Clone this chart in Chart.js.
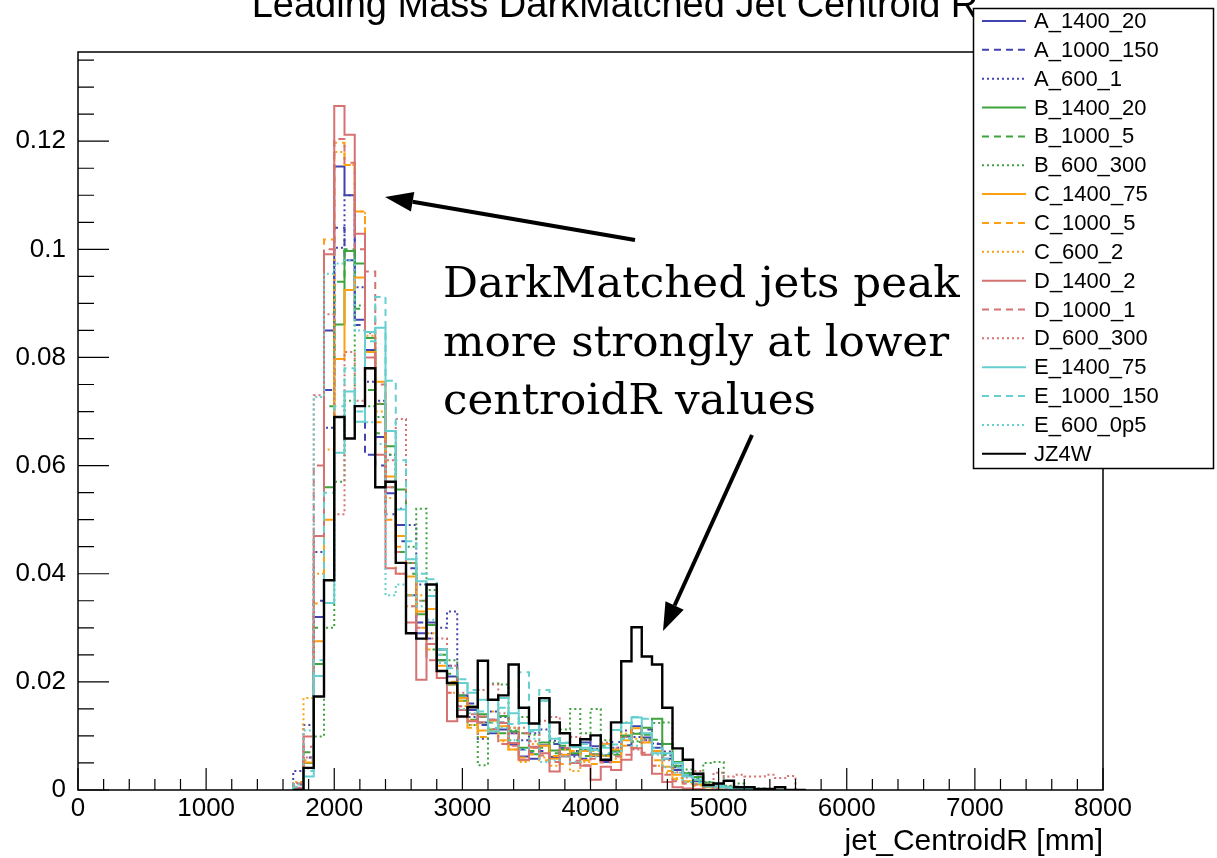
<!DOCTYPE html>
<html>
<head>
<meta charset="utf-8">
<script src="https://cdn.jsdelivr.net/npm/chart.js@4.4.1/dist/chart.umd.min.js"></script>
<style>
  html, body { margin: 0; padding: 0; background: #fff; }
  #wrap { width: 1217px; height: 858px; }
</style>
</head>
<body>
<div id="wrap"><canvas id="histo" width="1217" height="858"></canvas></div>
<script>
// bins of 80 mm, first stored bin starts at 1680 mm
var binStart = 1680;
var binWidth = 80;

var seriesNames = ['A_1400_20', 'A_1000_150', 'A_600_1', 'B_1400_20', 'B_1000_5', 'B_600_300',
    'C_1400_75', 'C_1000_5', 'C_600_2', 'D_1400_2', 'D_1000_1', 'D_600_300',
    'E_1400_75', 'E_1000_150', 'E_600_0p5', 'JZ4W'];

var A_1400_20 = [0.0003, 0.005, 0.032, 0.085, 0.1153, 0.110, 0.087, 0.0814, 0.0653, 0.0549,
    0.049, 0.036, 0.029, 0.031, 0.024, 0.021, 0.0175, 0.0148, 0.0125, 0.0105,
    0.0112, 0.0084, 0.0062, 0.0058, 0.0083, 0.0061, 0.0077, 0.0065, 0.0088, 0.0063,
    0.0052, 0.0071, 0.0099, 0.0118, 0.0097, 0.0078, 0.0058, 0.0037, 0.0027, 0.0016,
    0.0009, 0.0007, 0.0004, 0.0004, 0.0002, 0, 0, 0, 0, 0];
var A_1000_150 = [0.001, 0.006, 0.035, 0.074, 0.104, 0.098, 0.086, 0.062, 0.06, 0.051,
    0.046, 0.041, 0.031, 0.028, 0.026, 0.023, 0.017, 0.016, 0.012, 0.013,
    0.0125, 0.0105, 0.0075, 0.0068, 0.0072, 0.0085, 0.0066, 0.0072, 0.0058, 0.0081,
    0.0065, 0.0089, 0.0083, 0.0105, 0.0112, 0.0085, 0.0064, 0.0042, 0.0031, 0.0025,
    0.0012, 0.0008, 0.0004, 0.0006, 0.0003, 0.0002, 0, 0, 0, 0];
var A_600_1 = [0.0035, 0.012, 0.044, 0.067, 0.1003, 0.110, 0.093, 0.0755, 0.072, 0.062,
    0.052, 0.049, 0.038, 0.029, 0.030, 0.033, 0.017, 0.0135, 0.0095, 0.0145,
    0.0135, 0.0115, 0.0092, 0.0105, 0.0112, 0.0091, 0.0077, 0.0062, 0.0094, 0.0076,
    0.0064, 0.0078, 0.011, 0.0098, 0.0092, 0.0086, 0.0071, 0.0045, 0.0032, 0.0022,
    0.0015, 0.001, 0.0007, 0.0004, 0.0003, 0.0002, 0, 0, 0, 0];
var B_1400_20 = [0, 0.005, 0.0233, 0.056, 0.0861, 0.0997, 0.0974, 0.0836, 0.0714, 0.0636,
    0.0556, 0.042, 0.0325, 0.0305, 0.024, 0.0195, 0.0165, 0.0155, 0.014, 0.0112,
    0.0137, 0.0108, 0.0078, 0.0066, 0.0088, 0.0073, 0.0075, 0.0068, 0.0074, 0.0066,
    0.0064, 0.0072, 0.0101, 0.0104, 0.0115, 0.0132, 0.0085, 0.0052, 0.0031, 0.0024,
    0.0014, 0.0006, 0.0004, 0.0003, 0.0002, 0, 0, 0, 0, 0];
var B_1000_5 = [0.0005, 0.007, 0.03, 0.071, 0.094, 0.1, 0.089, 0.074, 0.066, 0.056,
    0.044, 0.04, 0.035, 0.026, 0.025, 0.0215, 0.0175, 0.013, 0.0135, 0.0125,
    0.0105, 0.0092, 0.0105, 0.0072, 0.0078, 0.0068, 0.0082, 0.0071, 0.0063, 0.0075,
    0.0082, 0.0065, 0.0098, 0.0089, 0.0102, 0.0093, 0.0065, 0.0045, 0.003, 0.0018,
    0.0012, 0.0008, 0.0006, 0.0003, 0.0002, 0, 0, 0, 0, 0];
var B_600_300 = [0.0012, 0.004, 0.0099, 0.030, 0.057, 0.072, 0.0896, 0.071, 0.069, 0.062,
    0.047, 0.045, 0.052, 0.037, 0.026, 0.024, 0.017, 0.012, 0.0046, 0.0197,
    0.0195, 0.011, 0.0135, 0.0102, 0.0165, 0.0088, 0.0112, 0.015, 0.0105, 0.015,
    0.0092, 0.0068, 0.0125, 0.009, 0.0095, 0.0124, 0.0125, 0.0042, 0.0038, 0.002,
    0.005, 0.0052, 0.0008, 0.0012, 0.0003, 0.0003, 0, 0, 0, 0];
var C_1400_75 = [0, 0.0051, 0.0275, 0.05, 0.0797, 0.0925, 0.0948, 0.081, 0.0755, 0.058,
    0.047, 0.0395, 0.033, 0.0335, 0.023, 0.0195, 0.017, 0.0128, 0.011, 0.0128,
    0.0118, 0.0075, 0.0055, 0.0078, 0.0082, 0.0058, 0.0065, 0.005, 0.0072, 0.0064,
    0.0085, 0.0052, 0.0092, 0.0114, 0.0088, 0.0072, 0.0043, 0.0028, 0.0016, 0.001,
    0.0005, 0.0003, 0.0002, 0, 0, 0, 0, 0, 0, 0];
var C_1000_5 = [0.0006, 0.0055, 0.0345, 0.1018, 0.1197, 0.1156, 0.107, 0.078, 0.068, 0.050,
    0.045, 0.036, 0.03, 0.026, 0.022, 0.02, 0.0165, 0.0115, 0.0098, 0.011,
    0.0092, 0.0075, 0.006, 0.0066, 0.0055, 0.0063, 0.0048, 0.0072, 0.0055, 0.0048,
    0.0063, 0.0075, 0.0082, 0.0078, 0.0089, 0.0055, 0.0035, 0.002, 0.0012, 0.0008,
    0.0004, 0.0002, 0, 0, 0, 0, 0, 0, 0, 0];
var C_600_2 = [0.0015, 0.017, 0.04, 0.063, 0.118, 0.1156, 0.107, 0.084, 0.07, 0.054,
    0.04, 0.034, 0.036, 0.029, 0.025, 0.018, 0.0155, 0.012, 0.0125, 0.0145,
    0.009, 0.0115, 0.0052, 0.0085, 0.006, 0.0045, 0.0075, 0.0035, 0.0052, 0.0072,
    0.0063, 0.0058, 0.0104, 0.0095, 0.0065, 0.0045, 0.0032, 0.0022, 0.0015, 0.0012,
    0.0006, 0.0004, 0.0002, 0, 0, 0, 0, 0, 0, 0];
var D_1400_2 = [0.0004, 0.0099, 0.047, 0.0991, 0.1265, 0.1212, 0.1029, 0.080, 0.062, 0.041,
    0.040, 0.031, 0.0204, 0.027, 0.0207, 0.0127, 0.0148, 0.0127, 0.0136, 0.013,
    0.0124, 0.0087, 0.0056, 0.008, 0.0068, 0.0034, 0.0062, 0.005, 0.0045, 0.0019,
    0.0043, 0.0037, 0.0056, 0.0077, 0.0065, 0.003, 0.0015, 0.0005, 0.0003, 0.0002,
    0, 0, 0, 0, 0, 0, 0, 0, 0, 0];
var D_1000_1 = [0.0012, 0.008, 0.06, 0.1, 0.1204, 0.116, 0.1, 0.0959, 0.075, 0.056,
    0.044, 0.034, 0.03, 0.024, 0.022, 0.018, 0.0155, 0.014, 0.0125, 0.0113,
    0.0085, 0.0082, 0.0105, 0.0078, 0.0064, 0.0052, 0.0078, 0.0054, 0.0046, 0.0058,
    0.0051, 0.0062, 0.0065, 0.0077, 0.0069, 0.0045, 0.0028, 0.0016, 0.0012, 0.001,
    0.0005, 0.0003, 0.0003, 0.0002, 0, 0, 0, 0, 0, 0];
var D_600_300 = [0.0013, 0.006, 0.073, 0.088, 0.051, 0.081, 0.072, 0.0845, 0.0715, 0.061,
    0.0686, 0.042, 0.035, 0.028, 0.028, 0.023, 0.018, 0.0155, 0.0185, 0.0195,
    0.0142, 0.0105, 0.0115, 0.009, 0.0128, 0.0135, 0.0105, 0.0098, 0.0074, 0.0066,
    0.0088, 0.0078, 0.0098, 0.0075, 0.0092, 0.0068, 0.0055, 0.0033, 0.0023, 0.0035,
    0.0012, 0.0032, 0.0025, 0.0028, 0.0025, 0.0025, 0.0028, 0.0022, 0.0026, 0];
var E_1400_75 = [0, 0.0025, 0.0211, 0.0346, 0.0624, 0.0737, 0.0681, 0.0847, 0.0855, 0.0664,
    0.0519, 0.0427, 0.0386, 0.0359, 0.026, 0.0198, 0.0198, 0.018, 0.0167, 0.0108,
    0.017, 0.0142, 0.0124, 0.0111, 0.0165, 0.0095, 0.0087, 0.008, 0.0078, 0.0074,
    0.0078, 0.0111, 0.0124, 0.0134, 0.0105, 0.0068, 0.0068, 0.005, 0.0025, 0.0019,
    0.0008, 0.0008, 0.0005, 0.0003, 0.0002, 0, 0, 0, 0, 0];
var E_1000_150 = [0.0005, 0.0035, 0.024, 0.055, 0.071, 0.078, 0.07, 0.083, 0.0912, 0.0757,
    0.061, 0.046, 0.04, 0.039, 0.025, 0.0225, 0.0205, 0.0185, 0.0145, 0.0115,
    0.0152, 0.0122, 0.0218, 0.0108, 0.0185, 0.0095, 0.0088, 0.0079, 0.0085, 0.0072,
    0.0068, 0.0084, 0.0095, 0.0135, 0.0132, 0.0077, 0.0058, 0.0041, 0.0028, 0.0014,
    0.0007, 0.0005, 0.0003, 0, 0, 0, 0, 0, 0, 0];
var E_600_0p5 = [0.001, 0.011, 0.0727, 0.0955, 0.0974, 0.098, 0.085, 0.068, 0.064, 0.036,
    0.038, 0.036, 0.034, 0.0315, 0.0235, 0.0195, 0.015, 0.0142, 0.0145, 0.0125,
    0.0115, 0.0092, 0.0075, 0.0095, 0.0052, 0.0055, 0.0062, 0.0052, 0.0075, 0.0062,
    0.0083, 0.007, 0.0095, 0.0082, 0.0105, 0.0065, 0.0042, 0.0032, 0.0015, 0.0012,
    0.0006, 0.0004, 0, 0, 0, 0, 0, 0, 0, 0];
var JZ4W = [0, 0.0041, 0.0173, 0.0388, 0.069, 0.065, 0.071, 0.078, 0.056, 0.057,
    0.042, 0.029, 0.028, 0.038, 0.022, 0.0198, 0.0136, 0.0153, 0.0239, 0.0167,
    0.0175, 0.0232, 0.0152, 0.0123, 0.017, 0.0125, 0.0105, 0.0083, 0.0094, 0.0101,
    0.0056, 0.0125, 0.0238, 0.0301, 0.0247, 0.0232, 0.0152, 0.0077, 0.0056, 0.003,
    0.0009, 0.0012, 0.0017, 0.0005, 0.0005, 0.0002, 0.0002, 0.0005, 0, 0];

var seriesValues = [A_1400_20, A_1000_150, A_600_1, B_1400_20, B_1000_5, B_600_300,
    C_1400_75, C_1000_5, C_600_2, D_1400_2, D_1000_1, D_600_300,
    E_1400_75, E_1000_150, E_600_0p5, JZ4W];

var xTicks = [0, 1000, 2000, 3000, 4000, 5000, 6000, 7000, 8000];
var xTickLabels = ['0', '1000', '2000', '3000', '4000', '5000', '6000', '7000', '8000'];
var yTicks = [0, 0.02, 0.04, 0.06, 0.08, 0.1, 0.12];
var yTickLabels = ['0', '0.02', '0.04', '0.06', '0.08', '0.1', '0.12'];
var yMax = 0.1365;

var titleText = 'Leading Mass DarkMatched Jet Centroid R';
var xTitle = 'jet_CentroidR [mm]';
var noteLines = ['DarkMatched jets peak', 'more strongly at lower', 'centroidR values'];

var groupColors = { A: '#4343b0', B: '#3fa33f', C: '#ffa010', D: '#d67272', E: '#66d0d0', J: '#000000' };
var dashStyles = [[], [7, 5], [2, 3]];

// histogram outline: one point per bin low edge, closed at the last upper edge
function histPoints(vals) {
    var pts = [{ x: binStart, y: 0 }];
    for (var i = 0; i < vals.length; i++) {
        pts.push({ x: binStart + i * binWidth, y: vals[i] });
    }
    pts.push({ x: binStart + vals.length * binWidth, y: vals[vals.length - 1] });
    pts.push({ x: binStart + vals.length * binWidth, y: 0 });
    return pts;
}

function arrow(ctx, x1, y1, x2, y2) {
    var a = Math.atan2(y2 - y1, x2 - x1);
    var hl = 28, hw = 10;
    var bx = x2 - hl * Math.cos(a), by = y2 - hl * Math.sin(a);
    ctx.beginPath();
    ctx.moveTo(x1, y1);
    ctx.lineTo(bx, by);
    ctx.stroke();
    ctx.beginPath();
    ctx.moveTo(x2, y2);
    ctx.lineTo(bx + hw * Math.sin(a), by - hw * Math.cos(a));
    ctx.lineTo(bx - hw * Math.sin(a), by + hw * Math.cos(a));
    ctx.closePath();
    ctx.fill();
}

var rootStyle = {
    id: 'rootStyle',
    afterDraw: function(chart) {
        var ctx = chart.ctx;
        var ca = chart.chartArea;
        var sx = chart.scales.x, sy = chart.scales.y;
        ctx.save();
        ctx.strokeStyle = '#000';
        ctx.fillStyle = '#000';
        ctx.setLineDash([]);

        // frame
        ctx.lineWidth = 1.5;
        ctx.strokeRect(ca.left, ca.top, ca.right - ca.left, ca.bottom - ca.top);

        // x ticks: major every 1000, minor every 200
        ctx.lineWidth = 1.2;
        ctx.beginPath();
        for (var v = 0; v <= 8000; v += 200) {
            var px = sx.getPixelForValue(v);
            var len = (v % 1000 === 0) ? 22 : 11;
            ctx.moveTo(px, ca.bottom);
            ctx.lineTo(px, ca.bottom - len);
        }
        // y ticks: major every 0.02, minor every 0.005
        for (var k = 0; k * 0.005 <= yMax; k++) {
            var py = sy.getPixelForValue(k * 0.005);
            var l = (k % 4 === 0) ? 31 : 16;
            ctx.moveTo(ca.left, py);
            ctx.lineTo(ca.left + l, py);
        }
        ctx.stroke();

        // tick labels
        ctx.font = '26px "Liberation Sans", Arial, sans-serif';
        ctx.textAlign = 'center';
        ctx.textBaseline = 'top';
        xTicks.forEach(function(t, i) {
            ctx.fillText(xTickLabels[i], sx.getPixelForValue(t), ca.bottom + 6);
        });
        ctx.textAlign = 'right';
        ctx.textBaseline = 'middle';
        yTicks.forEach(function(t, i) {
            ctx.fillText(yTickLabels[i], ca.left - 12, sy.getPixelForValue(t));
        });

        // axis title
        ctx.font = '30px "Liberation Sans", Arial, sans-serif';
        ctx.textAlign = 'right';
        ctx.fillText(xTitle, ca.right, 842);

        // main title, clipped by the top of the page
        ctx.font = '38px "Liberation Sans", Arial, sans-serif';
        ctx.textAlign = 'center';
        ctx.textBaseline = 'alphabetic';
        ctx.fillText(titleText, 615, 17);

        // annotation
        ctx.textAlign = 'left';
        var fs = 40;
        ctx.font = fs + 'px "DejaVu Serif", serif';
        fs = fs * 517 / ctx.measureText(noteLines[0]).width;
        ctx.font = fs.toFixed(1) + 'px "DejaVu Serif", serif';
        ctx.fillText(noteLines[0], 443, 297);
        ctx.fillText(noteLines[1], 443, 356);
        ctx.fillText(noteLines[2], 443, 414);

        ctx.lineWidth = 4;
        arrow(ctx, 635, 240, 385, 197);
        arrow(ctx, 752, 435, 663, 631);

        // legend
        ctx.fillStyle = '#fff';
        ctx.fillRect(973, 8, 240, 460);
        ctx.lineWidth = 1.5;
        ctx.strokeStyle = '#000';
        ctx.strokeRect(973.5, 8.5, 240, 460);
        ctx.font = '22px "Liberation Sans", Arial, sans-serif';
        ctx.textBaseline = 'middle';
        chart.data.datasets.forEach(function(ds, i) {
            var ly = 21 + i * 28.85;
            ctx.strokeStyle = ds.borderColor;
            ctx.lineWidth = 2;
            ctx.setLineDash(ds.borderDash);
            ctx.beginPath();
            ctx.moveTo(982, ly);
            ctx.lineTo(1026, ly);
            ctx.stroke();
            ctx.setLineDash([]);
            ctx.fillStyle = '#000';
            ctx.fillText(ds.label, 1034, ly + 1);
        });
        ctx.restore();
    }
};

document.addEventListener('DOMContentLoaded', function() {
    var datasets = seriesNames.map(function(name, i) {
        var group = name === 'JZ4W' ? 'J' : name.charAt(0);
        return {
            label: name,
            data: histPoints(seriesValues[i]),
            borderColor: groupColors[group],
            borderDash: group === 'J' ? [] : dashStyles[i % 3],
            borderWidth: group === 'J' ? 2.4 : 2,
            stepped: 'before',
            pointRadius: 0,
            fill: false,
            order: seriesNames.length - i
        };
    });

    var ctx = document.getElementById('histo').getContext('2d');
    var histo = new Chart(ctx, {
        type: 'line',
        data: { datasets: datasets },
        options: {
            responsive: false,
            animation: false,
            layout: { padding: { left: 78, right: 114, top: 52, bottom: 68 } },
            plugins: { legend: { display: false }, tooltip: { enabled: false } },
            scales: {
                x: { type: 'linear', min: 0, max: 8000, display: false },
                y: { min: 0, max: yMax, display: false }
            }
        },
        plugins: [rootStyle]
    });
});
</script>
</body>
</html>
